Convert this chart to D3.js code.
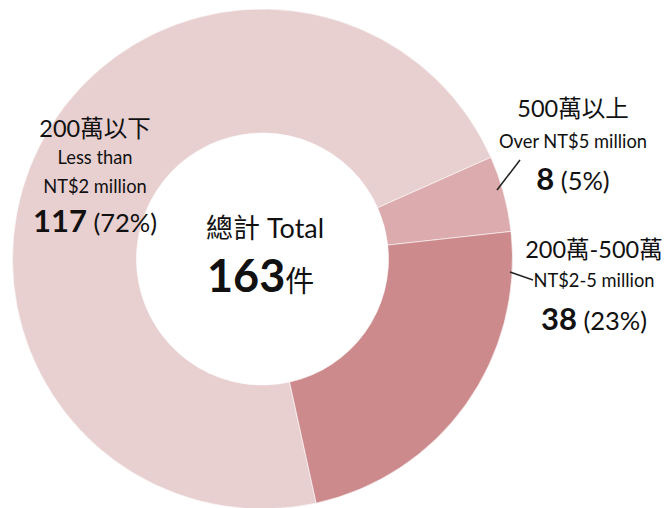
<!DOCTYPE html>
<html>
<head>
<meta charset="utf-8">
<script src="https://cdn.jsdelivr.net/npm/d3@7"></script>
<style>
body{margin:0;background:#fff;}
svg text{font-family:Lato,"Noto Sans CJK TC",sans-serif;fill:#111;}
</style>
</head>
<body>
<div class="container"></div>
<script>
// data
var categories=["200萬以下","500萬以上","200萬-500萬"];
var labelsEn=[["Less than","NT$2 million"],["Over NT$5 million"],["NT$2-5 million"]];
var counts=[117,8,38];
var percents=["(72%)","(5%)","(23%)"];
var colors=["#e8cfd0","#dcabad","#cd8a8d"];

var width=667,height=508;
var cx=262.5,cy=259;
var outerR=250,innerR=126;
var startDeg=167.6;

var svg=d3.select(".container").append("svg").attr("width",width).attr("height",height);
var g=svg.append("g").attr("transform","translate("+cx+","+cy+")");

var pie=d3.pie().sort(null).value(function(d){return d;})
    .startAngle(startDeg*Math.PI/180).endAngle(startDeg*Math.PI/180+2*Math.PI);
var arc=d3.arc().innerRadius(innerR).outerRadius(outerR);

g.selectAll("path.slice")
    .data(pie(counts))
    .enter().append("path")
    .attr("class","slice")
    .attr("d",arc)
    .attr("fill",function(d,i){return colors[i];})
    .attr("stroke","#fff").attr("stroke-width",0.6);

// center total
var total=d3.sum(counts);
svg.append("text").attr("x",206).attr("y",238).attr("font-size",27).text("總計 Total");
var tt=svg.append("text").attr("x",207).attr("y",292);
tt.append("tspan").attr("font-size",45).attr("font-weight","bold").text(total);
tt.append("tspan").attr("font-size",29).text("件");

// label positions (label block anchors)
var labelPos=[
  {x:95,zh:137,en:[164,193],num:232},
  {x:573,zh:117,en:[148],num:190},
  {x:594,zh:258,en:[287],num:330}
];

labelPos.forEach(function(p,i){
  svg.append("text").attr("x",p.x).attr("y",p.zh).attr("text-anchor","middle")
     .attr("font-size",23.5).text(categories[i]);
  labelsEn[i].forEach(function(s,j){
    svg.append("text").attr("x",p.x).attr("y",p.en[j]).attr("text-anchor","middle")
       .attr("font-size",18.3).text(s);
  });
  var t=svg.append("text").attr("x",p.x).attr("y",p.num).attr("text-anchor","middle");
  t.append("tspan").attr("font-size",31).attr("font-weight","bold").text(counts[i]);
  t.append("tspan").attr("font-size",25.5).text(" "+percents[i]);
});

// leader lines, from slice edge to label
var leaders=[null,[[497,190],[520,160]],[[510,272],[533,280]]];
leaders.forEach(function(l){
  if(!l) return;
  svg.append("path").attr("d",d3.line()(l)).attr("stroke","#222").attr("stroke-width",1.5).attr("fill","none");
});
</script>
</body>
</html>
